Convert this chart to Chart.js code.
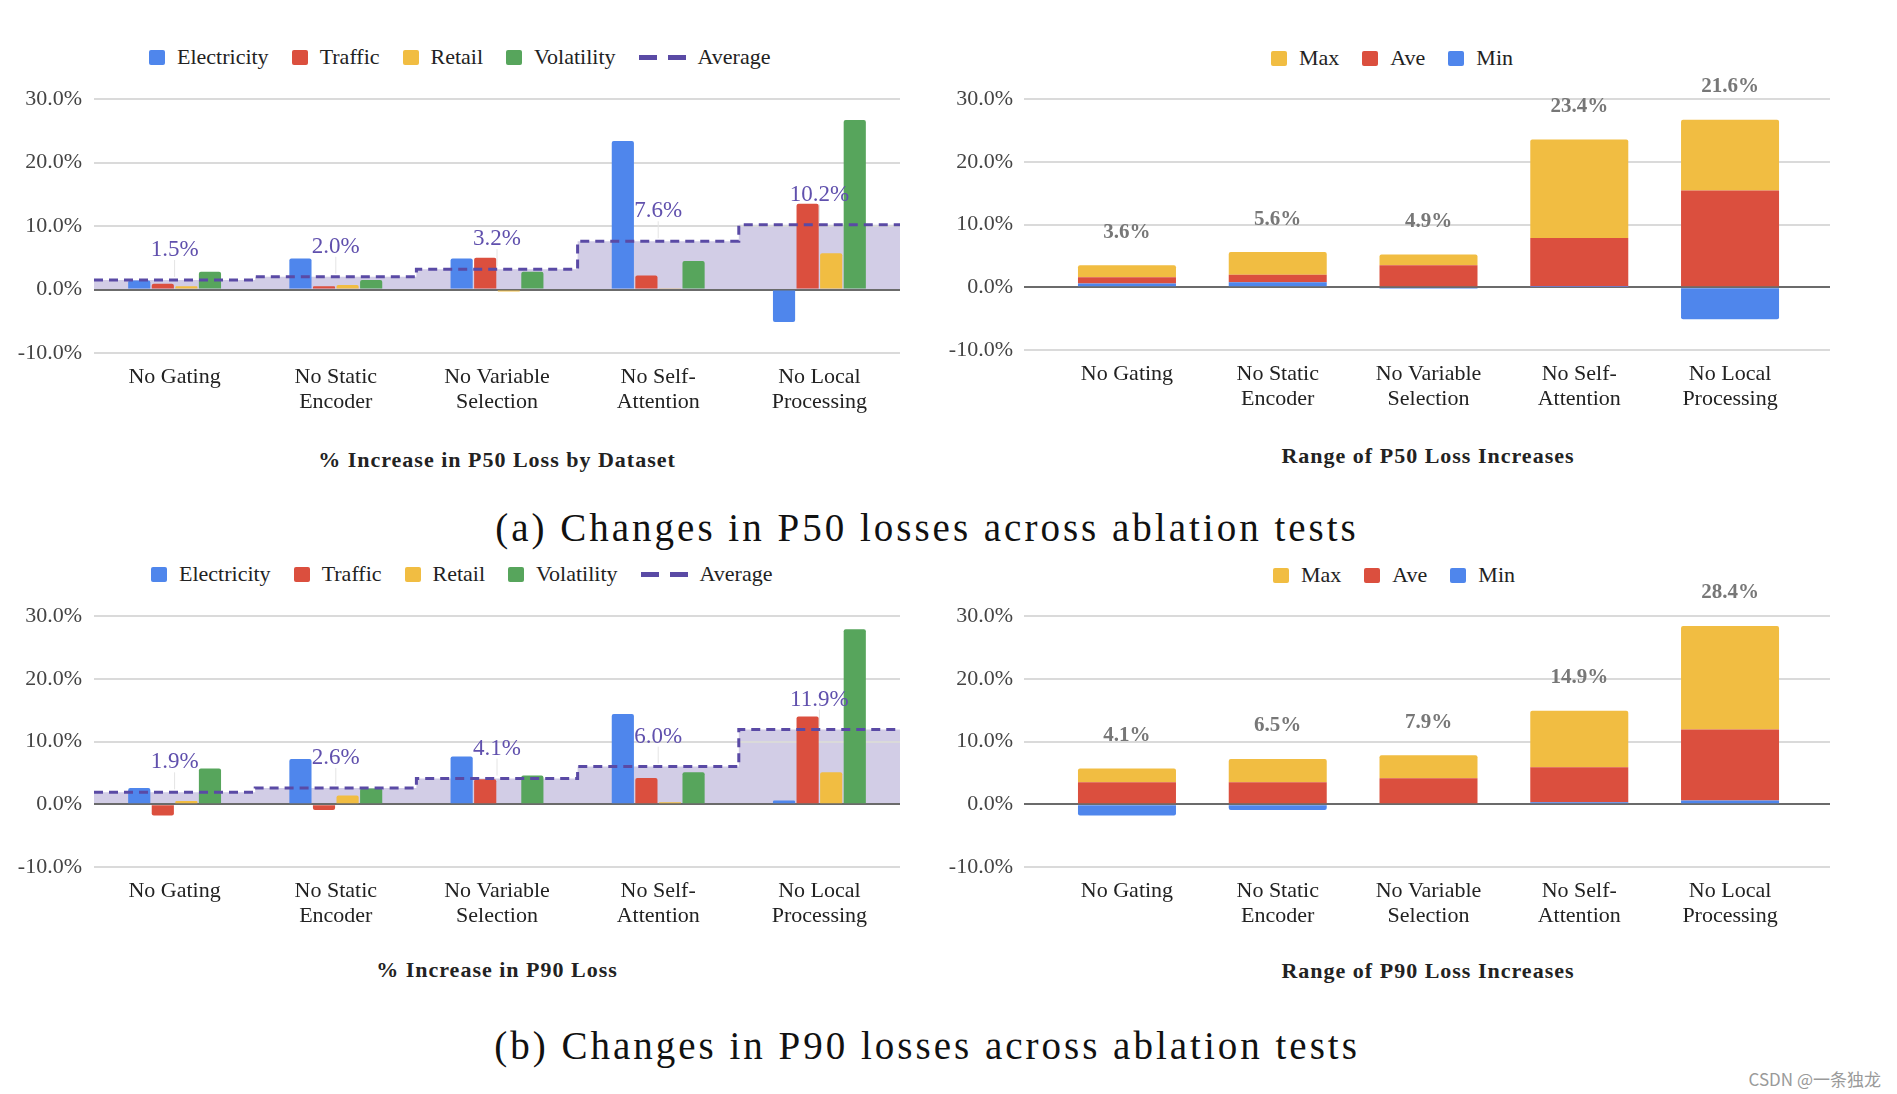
<!DOCTYPE html>
<html>
<head>
<meta charset="utf-8">
<script src="https://cdn.jsdelivr.net/npm/chart.js@4.4.0/dist/chart.umd.min.js"></script>
<style>
  body { margin: 0; width: 1897px; height: 1094px; background: #fff; position: relative; overflow: hidden; font-family: 'Liberation Serif', serif; color: #222; }
  canvas { position: absolute; }
  .legend { position: absolute; display: flex; align-items: center; font-size: 22px; color: #222; white-space: nowrap; transform: translateY(-50%); }
  .legend .item { display: flex; align-items: center; margin-right: 23px; }
  .legend .sw { width: 16px; height: 15px; border-radius: 2px; margin-right: 12px; }
  .legend .dash { width: 18px; height: 5px; margin-right: 11px; }
  .legend .dash:nth-child(2) { margin-right: 12px; }
  .title { position: absolute; font-weight: bold; font-size: 22px; letter-spacing: 1px; white-space: nowrap; transform: translate(-50%, -50%); color: #222; }
  .caption { position: absolute; font-size: 39px; letter-spacing: 3px; white-space: nowrap; line-height: 1; transform: translate(-50%, -50%); color: #111; }
  .mark { position: absolute; right: 16px; top: 1066px; font-family: 'Noto Sans CJK SC', sans-serif; font-size: 17px; color: #9a9a9a; }
</style>
</head>
<body>

<div class="legend" id="legP50" style="left:149px; top:57px"></div>
<div class="legend" id="legR50" style="left:1271px; top:58px"></div>
<div class="legend" id="legP90" style="left:151px; top:574px"></div>
<div class="legend" id="legR90" style="left:1273px; top:575px"></div>

<!-- left panels: average fill below, bars in the middle, dashed average on top -->
<canvas id="p50fill" width="920" height="380" style="left:0; top:40px"></canvas>
<canvas id="p50" width="920" height="380" style="left:0; top:40px"></canvas>
<canvas id="p50line" width="920" height="380" style="left:0; top:40px"></canvas>
<canvas id="r50" width="930" height="380" style="left:920px; top:40px"></canvas>
<canvas id="p90fill" width="920" height="380" style="left:0; top:557px"></canvas>
<canvas id="p90" width="920" height="380" style="left:0; top:557px"></canvas>
<canvas id="p90line" width="920" height="380" style="left:0; top:557px"></canvas>
<canvas id="r90" width="930" height="380" style="left:920px; top:557px"></canvas>

<div class="title" style="left:497px; top:460px">% Increase in P50 Loss by Dataset</div>
<div class="title" style="left:1428px; top:456px">Range of P50 Loss Increases</div>
<div class="title" style="left:497px; top:970px">% Increase in P90 Loss</div>
<div class="title" style="left:1428px; top:971px">Range of P90 Loss Increases</div>

<div class="caption" style="left:927px; top:527px">(a) Changes in P50 losses across ablation tests</div>
<div class="caption" style="left:927px; top:1045px">(b) Changes in P90 losses across ablation tests</div>
<div class="mark">CSDN @一条独龙</div>

<script>
const categories = [['No Gating'], ['No Static', 'Encoder'], ['No Variable', 'Selection'], ['No Self-', 'Attention'], ['No Local', 'Processing']];
const datasetNames = ['Electricity', 'Traffic', 'Retail', 'Volatility'];

// P50 loss increase per dataset (%)
const p50Electricity = [1.4, 4.9, 4.9, 23.4, -5.1];
const p50Traffic = [0.9, 0.5, 5.0, 2.2, 13.5];
const p50Retail = [0.5, 0.7, -0.3, 0.1, 5.7];
const p50Volatility = [2.8, 1.5, 2.8, 4.5, 26.7];
const p50Average = [1.5, 2.0, 3.2, 7.6, 10.2];

// P90 loss increase per dataset (%)
const p90Electricity = [2.6, 7.2, 7.6, 14.4, 0.6];
const p90Traffic = [-1.8, -0.9, 4.0, 4.2, 14.0];
const p90Retail = [0.5, 1.4, 0.15, 0.3, 5.1];
const p90Volatility = [5.7, 2.5, 4.6, 5.1, 27.9];
const p90Average = [1.9, 2.6, 4.1, 6.0, 11.9];

// range charts: stacked segment heights as drawn (Min, Ave, Max)
const p50RangeMin = [0.6, 0.8, -0.25, 0.05, -5.1];
const p50RangeAve = [1.0, 1.2, 3.5, 7.8, 15.4];
const p50RangeMax = [1.9, 3.6, 1.7, 15.7, 11.3];
const p50RangeLabels = ['3.6%', '5.6%', '4.9%', '23.4%', '21.6%'];

const p90RangeMin = [-1.8, -0.9, 0.15, 0.3, 0.6];
const p90RangeAve = [3.5, 3.5, 4.0, 5.6, 11.3];
const p90RangeMax = [2.2, 3.7, 3.65, 9.0, 16.5];
const p90RangeLabels = ['4.1%', '6.5%', '7.9%', '14.9%', '28.4%'];

const yTicks = [-10, 0, 10, 20, 30];

const BLUE = '#4f86ec', RED = '#db4f3e', YELLOW = '#f1bd42', GREEN = '#57a55c';
const AVG_LINE = '#5a4aa5', AVG_FILL = 'rgba(94, 76, 165, 0.28)', AVG_TEXT = '#6050ad';
const SERIF = "'Liberation Serif', serif";

function makeLegend(id, items) {
  const el = document.getElementById(id);
  items.forEach(it => {
    const d = document.createElement('div');
    d.className = 'item';
    if (it.dash) {
      d.innerHTML = `<span class="dash" style="background:${it.color}"></span><span class="dash" style="background:${it.color}"></span>${it.label}`;
    } else {
      d.innerHTML = `<span class="sw" style="background:${it.color}"></span>${it.label}`;
    }
    el.appendChild(d);
  });
}

const gridOpts = {
  color: c => c.tick.value === 0 ? '#6b6b6b' : '#dadada',
  lineWidth: 2,
  drawTicks: false
};

function yScale(width, pad, stacked) {
  return {
    min: yTicks[0],
    max: yTicks[yTicks.length - 1],
    stacked: stacked,
    afterBuildTicks: s => { s.ticks = yTicks.map(v => ({ value: v })); },
    ticks: { callback: v => v.toFixed(1) + '%', padding: pad, color: '#444', font: { family: SERIF, size: 22 } },
    grid: gridOpts,
    border: { display: false },
    afterFit: s => { s.width = width; }
  };
}

const xTickFont = { family: SERIF, size: 22, lineHeight: 1.13 };

// average labels above the step line
const avgLabels = {
  id: 'avgLabels',
  afterDatasetsDraw(chart, args, opts) {
    const { ctx, scales: { x, y } } = chart;
    ctx.save();
    ctx.font = `23px ${SERIF}`;
    ctx.fillStyle = AVG_TEXT;
    ctx.textAlign = 'center';
    ctx.textBaseline = 'middle';
    opts.values.forEach((v, i) => {
      const px = x.getPixelForValue(i + 0.5), py = y.getPixelForValue(v);
      ctx.strokeStyle = '#e4e4e4';
      ctx.lineWidth = 1;
      ctx.beginPath();
      ctx.moveTo(px, py - 20);
      ctx.lineTo(px, py - 3);
      ctx.stroke();
      ctx.fillText(v.toFixed(1) + '%', px, py - 30);
    });
    ctx.restore();
  }
};

// step line of the averages, on the same plot area as the bar chart below/above it
function averageChart(id, avg, xHeight, dashed) {
  const steps = avg.concat(avg[avg.length - 1]).map((v, i) => ({ x: i, y: v }));
  const ds = dashed
    ? { data: steps, stepped: 'before', fill: false, borderColor: AVG_LINE, borderWidth: 3, borderDash: [9, 6], pointRadius: 0 }
    : { data: steps, stepped: 'before', fill: 'origin', backgroundColor: AVG_FILL, borderColor: 'transparent', pointRadius: 0 };
  return new Chart(document.getElementById(id), {
    type: 'line',
    data: { datasets: [Object.assign({ label: 'Average' }, ds)] },
    options: {
      responsive: false,
      animation: false,
      layout: { padding: { top: 59, right: 20, left: 94, bottom: xHeight } },
      plugins: { legend: { display: false }, tooltip: { enabled: false }, avgLabels: { values: avg } },
      scales: {
        x: { type: 'linear', display: false, offset: false, min: 0, max: 5 },
        y: { display: false, min: yTicks[0], max: yTicks[yTicks.length - 1] }
      }
    },
    plugins: dashed ? [avgLabels] : []
  });
}

function datasetChart(id, series, xHeight) {
  const colors = [BLUE, RED, YELLOW, GREEN];
  return new Chart(document.getElementById(id), {
    type: 'bar',
    data: {
      labels: categories,
      datasets: series.map((s, k) => ({
        label: datasetNames[k], data: s, backgroundColor: colors[k], borderRadius: 2
      }))
    },
    options: {
      responsive: false,
      animation: false,
      datasets: { bar: { categoryPercentage: 0.585, barPercentage: 0.94 } },
      layout: { padding: { top: 59, right: 20, left: 0, bottom: 0 } },
      plugins: { legend: { display: false }, tooltip: { enabled: false } },
      scales: {
        x: {
          grid: { display: false, drawTicks: false },
          border: { display: false },
          ticks: { padding: 12, maxRotation: 0, autoSkip: false, color: '#222', font: xTickFont },
          afterFit: s => { s.height = xHeight; }
        },
        y: yScale(94, 12, false)
      }
    }
  });
}

// totals written above stacked bars
const stackLabels = {
  id: 'stackLabels',
  afterDatasetsDraw(chart, args, opts) {
    const ctx = chart.ctx;
    const top = chart.getDatasetMeta(chart.data.datasets.length - 1);
    ctx.save();
    ctx.font = `bold 21px ${SERIF}`;
    ctx.fillStyle = '#777';
    ctx.textAlign = 'center';
    ctx.textBaseline = 'middle';
    top.data.forEach((bar, i) => ctx.fillText(opts.labels[i], bar.x, bar.y - 33));
    ctx.restore();
  }
};

function rangeChart(id, minSeg, aveSeg, maxSeg, labels) {
  const pts = arr => arr.map((v, i) => ({ x: i, y: v }));
  return new Chart(document.getElementById(id), {
    type: 'bar',
    data: {
      datasets: [
        { label: 'Min', data: pts(minSeg), backgroundColor: BLUE },
        { label: 'Ave', data: pts(aveSeg), backgroundColor: RED },
        { label: 'Max', data: pts(maxSeg), backgroundColor: YELLOW }
      ]
    },
    options: {
      responsive: false,
      animation: false,
      datasets: { bar: { categoryPercentage: 0.65, barPercentage: 1, borderRadius: 2 } },
      layout: { padding: { top: 59, right: 20, left: 0, bottom: 0 } },
      plugins: { legend: { display: false }, tooltip: { enabled: false }, stackLabels: { labels } },
      scales: {
        x: {
          type: 'linear', min: -0.683, max: 4.663, stacked: true, offset: false,
          grid: { display: false, drawTicks: false },
          border: { display: false },
          ticks: { stepSize: 1, includeBounds: false, padding: 11.5, maxRotation: 0, autoSkip: false,
                   color: '#222', font: xTickFont, callback: v => categories[v] || '' },
          afterFit: s => { s.height = 70; }
        },
        y: yScale(104, 11, true)
      }
    },
    plugins: [stackLabels]
  });
}

const dsLegend = [
  { label: 'Electricity', color: BLUE }, { label: 'Traffic', color: RED },
  { label: 'Retail', color: YELLOW }, { label: 'Volatility', color: GREEN },
  { label: 'Average', color: AVG_LINE, dash: true }
];
const rangeLegend = [{ label: 'Max', color: YELLOW }, { label: 'Ave', color: RED }, { label: 'Min', color: BLUE }];
makeLegend('legP50', dsLegend);
makeLegend('legP90', dsLegend);
makeLegend('legR50', rangeLegend);
makeLegend('legR90', rangeLegend);

averageChart('p50fill', p50Average, 67, false);
datasetChart('p50', [p50Electricity, p50Traffic, p50Retail, p50Volatility], 67);
averageChart('p50line', p50Average, 67, true);

averageChart('p90fill', p90Average, 70, false);
datasetChart('p90', [p90Electricity, p90Traffic, p90Retail, p90Volatility], 70);
averageChart('p90line', p90Average, 70, true);

rangeChart('r50', p50RangeMin, p50RangeAve, p50RangeMax, p50RangeLabels);
rangeChart('r90', p90RangeMin, p90RangeAve, p90RangeMax, p90RangeLabels);
</script>
</body>
</html>
